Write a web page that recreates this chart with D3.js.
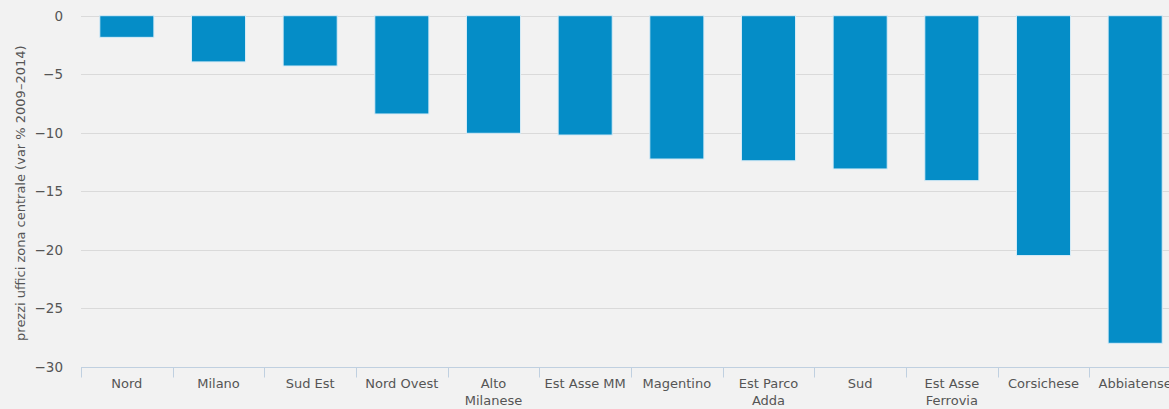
<!DOCTYPE html>
<html><head><meta charset="utf-8">
<script src="https://cdn.jsdelivr.net/npm/d3@7"></script>
<style>
html,body{margin:0;padding:0;background:#f2f2f2;overflow:hidden}
svg{display:block;font-family:"DejaVu Sans",sans-serif}
</style></head><body>
<svg id="c" width="1169" height="409"></svg>
<script>
const categories = ["Nord","Milano","Sud Est","Nord Ovest","Alto Milanese","Est Asse MM","Magentino","Est Parco Adda","Sud","Est Asse Ferrovia","Corsichese","Abbiatense"];
const labelLines = [["Nord"],["Milano"],["Sud Est"],["Nord Ovest"],["Alto","Milanese"],["Est Asse MM"],["Magentino"],["Est Parco","Adda"],["Sud"],["Est Asse","Ferrovia"],["Corsichese"],["Abbiatense"]];
const values = [-1.85,-3.95,-4.3,-8.4,-10.05,-10.2,-12.25,-12.4,-13.1,-14.1,-20.5,-28.0];
const yTicks = [0,-5,-10,-15,-20,-25,-30];
const yTitle = "prezzi uffici zona centrale (var % 2009–2014)";

(function(){
const svg = d3.select("#c");
const pL = 81, pR = 1181, pT = 15.7, pB = 366.7;
const x = d3.scaleBand().domain(categories).range([pL,pR]).paddingInner(0.41).paddingOuter(0.205);
const y = d3.scaleLinear().domain([-30,0]).range([pB,pT]);

// grid
svg.append("g").selectAll("line").data(yTicks.filter(d=>d!==-30)).join("line")
  .attr("x1",pL).attr("x2",1169).attr("y1",d=>Math.round(y(d))+0.5).attr("y2",d=>Math.round(y(d))+0.5)
  .attr("stroke","#dadada").attr("stroke-width",1);

// y tick labels
svg.append("g").selectAll("text").data(yTicks).join("text")
  .attr("x",63).attr("y",d=>y(d)+5).attr("text-anchor","end")
  .attr("font-size",13.5).attr("fill","#555").text(d=>d===0?"0":"−"+Math.abs(d));

// y title
svg.append("text").attr("transform",`translate(25,${(pT+pB)/2+2}) rotate(-90)`)
  .attr("text-anchor","middle").attr("font-size",13).attr("fill","#555").text(yTitle);

// bars
svg.append("g").selectAll("rect").data(values).join("rect")
  .attr("x",(d,i)=>x(categories[i])).attr("width",x.bandwidth())
  .attr("y",y(0)).attr("height",d=>y(d)-y(0))
  .attr("fill","#058dc7").attr("stroke","#d8ecf7").attr("stroke-width",1);

// x axis line
const xAxisY = Math.round(pB)+0.5;
svg.append("line").attr("x1",pL).attr("x2",1169).attr("y1",xAxisY).attr("y2",xAxisY)
  .attr("stroke","#c0d0e0").attr("stroke-width",1);
const bounds = categories.map(c=>x(c)-x.step()*x.paddingInner()/2);
svg.append("g").selectAll("line").data(bounds).join("line")
  .attr("x1",d=>Math.round(d)+0.5).attr("x2",d=>Math.round(d)+0.5)
  .attr("y1",xAxisY).attr("y2",xAxisY+10).attr("stroke","#c0d0e0");

// x labels
const xl = svg.append("g").selectAll("text").data(categories).join("text")
  .attr("x",c=>x(c)+x.bandwidth()/2).attr("y",388).attr("text-anchor","middle")
  .attr("font-size",13).attr("fill","#555");
xl.each(function(c,i){
  d3.select(this).selectAll("tspan").data(labelLines[i]).join("tspan")
    .attr("x",x(c)+x.bandwidth()/2).attr("dy",(d,j)=>j===0?0:17).text(d=>d);
});
})();
</script>
</body></html>
